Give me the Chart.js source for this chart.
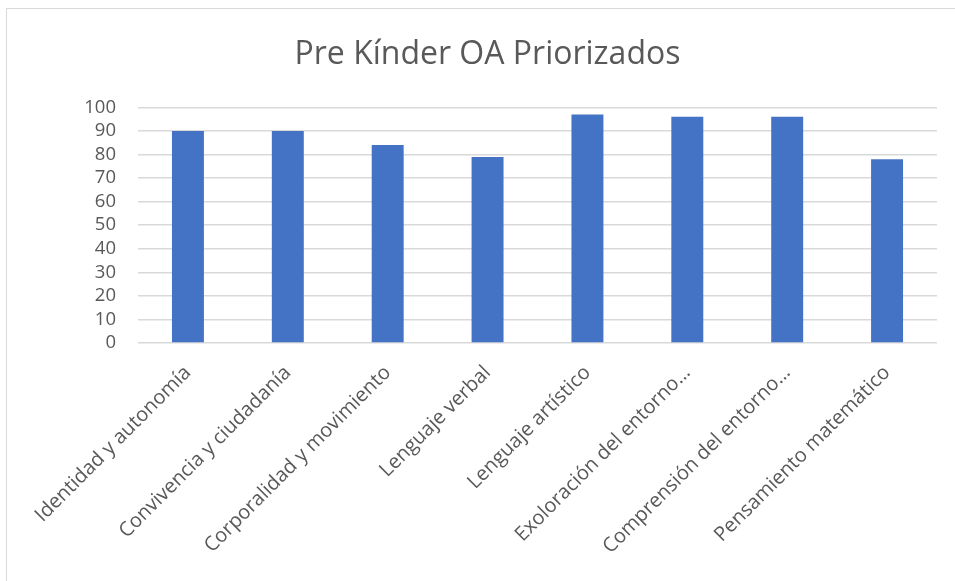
<!DOCTYPE html>
<html>
<head>
<meta charset="utf-8">
<script src="https://cdn.jsdelivr.net/npm/chart.js@4/dist/chart.umd.min.js"></script>
<style>
  html, body { margin: 0; padding: 0; background: #fff; }
  #wrap { position: relative; width: 955px; height: 581px; overflow: hidden; }
  #frame { position: absolute; left: 6px; top: 8px; width: 1000px; height: 1000px; border-left: 1.5px solid #d9d9d9; border-top: 1.5px solid #d9d9d9; }
  canvas { position: absolute; left: 0; top: 0; }
</style>
</head>
<body>
<div id="wrap">
  <div id="frame"></div>
  <canvas id="c" width="955" height="581"></canvas>
</div>
<script>
const title = "Pre Kínder OA Priorizados";
const categories = [
  "Identidad y autonomía",
  "Convivencia y ciudadanía",
  "Corporalidad y movimiento",
  "Lenguaje verbal",
  "Lenguaje artístico",
  "Exoloración del entorno…",
  "Comprensión del entorno…",
  "Pensamiento matemático"
];
const values = [90, 90, 84, 79, 97, 96, 96, 78];
const yMin = 0, yMax = 100, yStep = 10;

const FONT = "'Open Sans', 'Noto Sans', sans-serif";

new Chart(document.getElementById('c'), {
  type: 'bar',
  data: {
    labels: categories,
    datasets: [{
      data: values,
      backgroundColor: '#4472C4',
      borderWidth: 0,
      categoryPercentage: 1.0,
      barPercentage: 0.32
    }]
  },
  options: {
    responsive: false,
    animation: false,
    layout: { padding: { left: 38, right: 18, top: 0, bottom: 0 } },
    plugins: {
      legend: { display: false },
      tooltip: { enabled: false },
      title: {
        display: true,
        text: title,
        color: '#595959',
        font: { family: FONT, size: 32, weight: 'normal' },
        padding: { top: 36, bottom: 33 }
      }
    },
    scales: {
      x: {
        grid: { display: false, drawTicks: false },
        border: { display: false },
        ticks: {
          color: '#595959',
          font: { family: FONT, size: 20 },
          minRotation: 45,
          maxRotation: 45,
          autoSkip: false,
          padding: 18
        },
        afterFit(scale) { scale.height = 238; }
      },
      y: {
        min: yMin, max: yMax,
        grid: { color: '#d9d9d9', lineWidth: 1.5, drawTicks: false },
        border: { display: false },
        ticks: {
          stepSize: yStep,
          autoSkip: false,
          color: '#595959',
          font: { family: FONT, size: 18.5 },
          padding: 22
        },
        afterFit(scale) { scale.width = 100; scale.paddingTop = 0; scale.paddingBottom = 0; }
      }
    }
  }
});
</script>
</body>
</html>
